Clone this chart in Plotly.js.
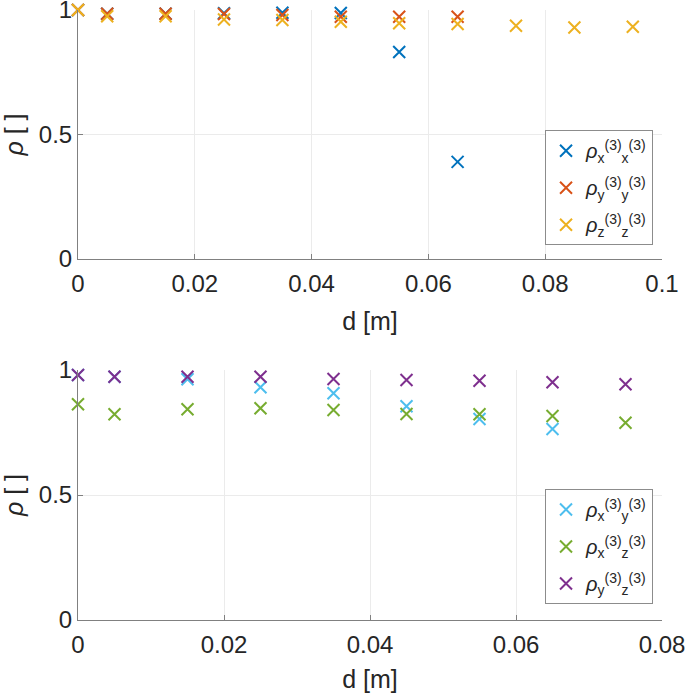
<!DOCTYPE html>
<html><head><meta charset="utf-8">
<script src="https://cdn.plot.ly/plotly-3.0.1.min.js"></script>
<style>html,body{margin:0;padding:0;background:#fff}#c{width:685px;height:693px}</style>
</head><body><div id="c"></div>
<script>
// top panel
const dTop = [0, 0.005, 0.015, 0.025, 0.035, 0.045, 0.055, 0.065, 0.075, 0.085, 0.095];
const rhoXX = [1, 0.985, 0.985, 0.987, 0.989, 0.988, 0.831, 0.39];
const rhoYY = [1, 0.985, 0.985, 0.984, 0.980, 0.973, 0.973, 0.973];
const rhoZZ = [1, 0.975, 0.975, 0.962, 0.960, 0.953, 0.947, 0.944, 0.937, 0.930, 0.933];
// bottom panel
const dBot = [0, 0.005, 0.015, 0.025, 0.035, 0.045, 0.055, 0.065, 0.075];
const rhoXY = [0.98, 0.973, 0.963, 0.931, 0.907, 0.855, 0.804, 0.764];
const rhoXZ = [0.863, 0.823, 0.843, 0.847, 0.840, 0.824, 0.823, 0.816, 0.789];
const rhoYZ = [0.98, 0.973, 0.973, 0.973, 0.964, 0.960, 0.957, 0.951, 0.943];
const xTicksTop = [0, 0.02, 0.04, 0.06, 0.08, 0.1];
const xTickTextTop = ['0', '0.02', '0.04', '0.06', '0.08', '0.1'];
const xTicksBot = [0, 0.02, 0.04, 0.06, 0.08];
const xTickTextBot = ['0', '0.02', '0.04', '0.06', '0.08'];
const yTicks = [0, 0.5, 1];
const yTickText = ['0', '0.5', '1'];

const names = {
  xx: '<i>ρ</i><sub>x</sub><sup>(3)</sup><sub>x</sub><sup>(3)</sup>',
  yy: '<i>ρ</i><sub>y</sub><sup>(3)</sup><sub>y</sub><sup>(3)</sup>',
  zz: '<i>ρ</i><sub>z</sub><sup>(3)</sup><sub>z</sub><sup>(3)</sup>',
  xy: '<i>ρ</i><sub>x</sub><sup>(3)</sup><sub>y</sub><sup>(3)</sup>',
  xz: '<i>ρ</i><sub>x</sub><sup>(3)</sup><sub>z</sub><sup>(3)</sup>',
  yz: '<i>ρ</i><sub>y</sub><sup>(3)</sup><sub>z</sub><sup>(3)</sup>'
};

function tr(x, y, name, color, xa, ya, leg, grp) {
  return {
    x: x.slice(0, y.length), y: y, name: name, type: 'scatter', mode: 'markers',
    xaxis: xa, yaxis: ya, legend: leg, legendgroup: grp, cliponaxis: false,
    marker: {symbol: 'x-thin', size: 12, color: color, line: {color: color, width: 2}}
  };
}

const data = [
  tr(dTop, rhoXX, names.xx, '#0072BD', 'x', 'y', 'legend', 'g1'),
  tr(dTop, rhoYY, names.yy, '#D95319', 'x', 'y', 'legend', 'g2'),
  tr(dTop, rhoZZ, names.zz, '#EDB120', 'x', 'y', 'legend', 'g3'),
  tr(dBot, rhoXY, names.xy, '#4DBEEE', 'x2', 'y2', 'legend2', 'g4'),
  tr(dBot, rhoXZ, names.xz, '#77AC30', 'x2', 'y2', 'legend2', 'g5'),
  tr(dBot, rhoYZ, names.yz, '#7E2F8E', 'x2', 'y2', 'legend2', 'g6')
];

const font = {family: '"Liberation Sans", Arial, sans-serif', color: '#262626'};
const tickFont = Object.assign({}, font, {size: 24});
const titleFont = Object.assign({}, font, {size: 25});

function xax(range, tv, tt, domAnchor) {
  return {
    range: range, tickvals: tv, ticktext: tt, anchor: domAnchor,
    showgrid: true, gridcolor: '#ebebeb', gridwidth: 1,
    showline: true, linecolor: '#808080', linewidth: 1, mirror: false,
    ticks: 'inside', ticklen: 5, tickcolor: '#808080', tickfont: tickFont,
    ticklabelstandoff: 3, ticklabeloverflow: 'allow', zeroline: false, automargin: false,
    title: {text: 'd [m]', font: titleFont, standoff: 16}
  };
}
function yax(domain, anchor) {
  return {
    domain: domain, range: [0, 1], tickvals: yTicks, ticktext: yTickText, anchor: anchor,
    showgrid: true, gridcolor: '#ebebeb', gridwidth: 1,
    showline: true, linecolor: '#808080', linewidth: 1,
    ticks: 'inside', ticklen: 5, tickcolor: '#808080', tickfont: tickFont,
    ticklabelstandoff: 0, ticklabeloverflow: 'allow', zeroline: false, automargin: false,
    title: {text: '<i>ρ</i> [ ]', font: titleFont, standoff: 13}
  };
}

const legBase = {
  xanchor: 'left', yanchor: 'top', bgcolor: '#ffffff',
  bordercolor: '#8c8c8c', borderwidth: 1, tracegroupgap: 8,
  font: Object.assign({}, font, {size: 20}), itemwidth: 30
};

const layout = {
  width: 685, height: 693,
  margin: {l: 78, r: 23, t: 10, b: 73},
  paper_bgcolor: '#ffffff', plot_bgcolor: '#ffffff',
  font: font, showlegend: true,
  xaxis: xax([0, 0.1], xTicksTop, xTickTextTop, 'y'),
  yaxis: yax([0.5918, 1], 'x'),
  xaxis2: xax([0, 0.08], xTicksBot, xTickTextBot, 'y2'),
  yaxis2: yax([0, 0.4098], 'x2'),
  legend: Object.assign({}, legBase, {x: 0.7997, y: 0.803}),
  legend2: Object.assign({}, legBase, {x: 0.7997, y: 0.2148})
};

Plotly.newPlot('c', data, layout, {displayModeBar: false, staticPlot: true});
</script></body></html>
